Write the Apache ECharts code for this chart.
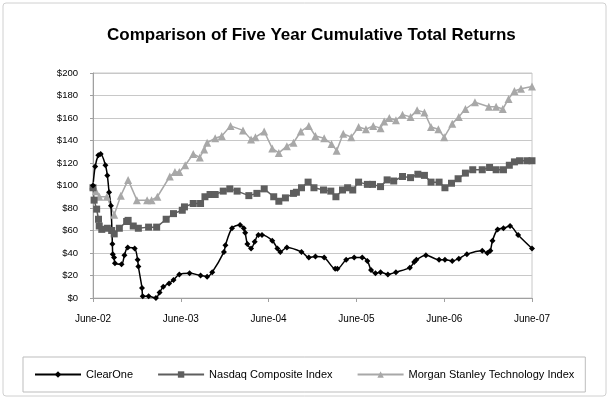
<!DOCTYPE html>
<html><head><meta charset="utf-8">
<script src="https://cdn.jsdelivr.net/npm/echarts@6/dist/echarts.min.js"></script>
<style>html,body{margin:0;padding:0;background:#fff}#c{width:610px;height:400px}</style>
</head><body><div id="c"></div>
<script>
// x = months after June 2002
var tickLabels = ['June-02','June-03','June-04','June-05','June-06','June-07'];
var clearOneMonths = [0,0.3,0.73,1.05,1.7,1.96,2.2,2.45,2.65,2.7,2.88,3.0,3.9,4.3,4.75,5.7,6.1,6.2,6.7,6.8,7.6,8.6,9.1,9.6,10.4,11.0,11.8,13.2,14.7,15.6,16.3,17.9,18.1,19.0,20.1,20.6,20.8,21.1,21.6,22.1,22.6,23.1,24.5,25.2,25.6,26.5,28.5,29.5,30.4,31.6,33.1,33.4,34.6,35.7,36.8,37.5,38.0,38.6,39.3,40.3,41.4,43.3,43.9,44.2,45.5,47.3,48.1,49.1,50.0,51.1,53.2,53.9,54.3,54.6,55.3,56.1,57.0,58.1,60];
var clearOneValues = [100,117,127,128,118,109,94,82,48,39,36,31,30,38,45,44,34,28,9,1.5,1.5,0,5,10,13,16,21,22,20,19,23,41,47,62,65,62,58,48,44,50,56,56,51,44,41,45,41,36,37,36,26,26,34,36,36,33,25,22,23,21,23,27,32,34,38,34,34,33,35,39,42,40,42,51,61,62,64,56,44];
var nasdaqMonths = [0,0.15,0.5,0.75,0.85,1.2,1.96,2.55,2.9,3.6,4.6,4.8,5.5,6.2,7.6,8.7,10.0,11.0,12.2,12.5,13.7,14.7,15.3,16.0,16.7,17.8,18.7,19.7,21.3,22.4,23.4,24.7,25.4,26.3,27.4,27.8,28.5,29.4,30.2,31.5,32.5,33.2,34.1,34.8,35.5,36.3,37.5,38.2,39.3,40.2,41.1,42.3,43.4,44.4,45.3,46.2,47.3,48.1,49.0,49.9,50.9,51.9,53.2,54.2,55.1,56.1,56.9,57.6,58.3,59.3,60];
var nasdaqValues = [98,87,79,70,64,61,62,60,57,62,68,69,64,62,63,63,70,75,78,81,84,84,90,92,92,95,97,95,91,93,97,90,86,89,93,94,98,103,98,96,95,90,96,98,96,103,101,101,99,105,104,108,107,110,109,103,103,98,102,106,111,114,114,116,114,114,118,121,122,122,122];
var morganMonths = [0,0.4,0.87,1.9,2.9,3.8,4.8,6.0,7.4,8.0,8.8,10.5,11.2,11.8,12.6,13.7,14.6,15.2,15.6,16.7,17.6,18.8,20.5,21.6,22.2,23.4,24.5,25.4,26.5,27.4,28.4,29.5,30.4,31.6,32.6,33.3,34.2,35.3,36.3,37.3,38.3,39.3,39.8,40.5,41.4,42.3,43.4,44.3,45.3,46.2,47.2,48.0,49.1,50.0,50.9,52.2,54.1,55.1,56.0,56.8,57.6,58.5,60];
var morganValues = [100,95,90,90,74,91,105,87,87,87,90,108,112,112,118,128,125,132,138,142,144,153,149,141,143,148,133,129,135,138,148,153,144,142,137,131,146,143,152,150,153,151,157,160,158,163,161,167,165,152,150,143,155,161,168,174,170,170,168,177,184,186,188];

function zip(a,b){return a.map(function(x,i){return [x,b[i]];});}
var chart = echarts.init(document.getElementById('c'));
var font = 'Liberation Sans, Arial, sans-serif';
chart.setOption({
  animation:false,
  backgroundColor:'#fff',
  textStyle:{fontFamily:font},
  graphic:[{type:'rect',shape:{x:3,y:3,width:603,height:393,r:3},style:{fill:'none',stroke:'#d0d0d0',lineWidth:1},z:-1}],
  title:{text:'Comparison of Five Year Cumulative Total Returns',left:107,top:27,padding:0,
    textStyle:{fontSize:17,fontWeight:'bold',color:'#000',fontFamily:font}},
  grid:{left:93,right:78,top:73,bottom:102,show:true,borderColor:'#c8c8c8',borderWidth:1},
  legend:{left:23,top:357,width:560,padding:[12,11,12,11],borderColor:'#bdbdbd',borderWidth:1,
    itemWidth:46,itemHeight:8,itemGap:24,
    textStyle:{fontSize:11,color:'#000',fontFamily:font},
    data:['ClearOne','Nasdaq Composite Index','Morgan Stanley Technology Index']},
  xAxis:{type:'value',min:0,max:60,interval:12,
    axisLine:{lineStyle:{color:'#a0a0a0'}},
    axisTick:{show:true,length:4,lineStyle:{color:'#a0a0a0'}},
    splitLine:{show:false},
    axisLabel:{margin:16,fontSize:10,color:'#000',formatter:function(v){return tickLabels[Math.round(v/12)];}}},
  yAxis:{type:'value',min:0,max:200,interval:20,
    axisLine:{show:true,lineStyle:{color:'#a0a0a0'}},
    axisTick:{show:true,length:3,lineStyle:{color:'#a0a0a0'}},
    splitLine:{lineStyle:{color:'#c8c8c8'}},
    axisLabel:{fontSize:9.5,color:'#000',margin:15,formatter:function(v){return '$'+v;}}},
  series:[
    {name:'Morgan Stanley Technology Index',type:'line',data:zip(morganMonths,morganValues),
      symbol:'triangle',symbolSize:8,itemStyle:{color:'#a8a8a8'},lineStyle:{color:'#a8a8a8',width:1.5}},
    {name:'Nasdaq Composite Index',type:'line',data:zip(nasdaqMonths,nasdaqValues),
      symbol:'rect',symbolSize:7,itemStyle:{color:'#5e5e5e'},lineStyle:{color:'#5e5e5e',width:1.5}},
    {name:'ClearOne',type:'line',data:zip(clearOneMonths,clearOneValues),smooth:0.3,
      symbol:'diamond',symbolSize:6,itemStyle:{color:'#000'},lineStyle:{color:'#000',width:1.5},z:3}
  ]
});
</script></body></html>
